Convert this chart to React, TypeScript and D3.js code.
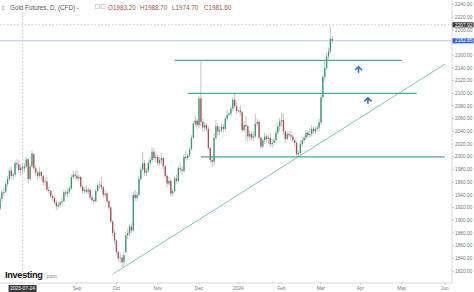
import React from "react";
import * as d3 from "d3";

// ---- data ----
const opens = [1918,1934,1944,1945,1957,1965,1978,1970,1972,1990,1988,1979,1983.2,1981.6,1985,1996,1965,1985,2004,1982,1975,1970,1976,1970,1960,1961,1948,1946,1938,1935,1928,1922,1924,1928,1930,1944,1942,1945,1950,1968,1972,1970,1966,1968,1953,1946,1948,1945,1948,1936,1932,1930,1946,1955,1956,1952,1940,1942,1930,1920,1898,1880,1868,1850,1840,1841,1834,1850,1876,1880,1890,1884,1940,1935,1940,1965,1980,1990,1975,1978,1990,1995,2008,1998,2000,1990,1995,1998,1985,1970,1958,1962,1942,1946,1966,1962,1982,1980,1978,2000,1998,2002,2012,2030,2052,2057,2050,2092,2055,2046,2050,2044,2014,1995,1992,2030,2048,2040,2042,2047,2044,2060,2066,2068,2076,2090,2080,2072,2073,2070,2042,2050,2048,2032,2036,2030,2032,2052,2055,2030,2016,2026,2032,2028,2030,2020,2022,2026,2038,2048,2056,2058,2040,2028,2036,2034,2032,2026,2022,2004,2006,2020,2026,2030,2038,2034,2036,2044,2040,2044,2046,2054,2094,2126,2140,2158,2166,2186];
const highs = [1938,1948,1950,1960,1970,1982,1984,1976,1994,1996,1995,1988,1988.7,1990,2000,1999,1988,2010,2006,1986,1978,1984,1978,1972,1966,1968,1952,1948,1942,1938,1932,1928,1931,1935,1948,1948,1951,1954,1972,1978,1978,1980,1972,1970,1955,1952,1955,1952,1950,1940,1936,1950,1958,1962,1968,1954,1948,1945,1932,1922,1900,1885,1870,1852,1848,1845,1850,1882,1886,1894,1895,1945,1948,1945,1970,1985,2008,1995,1982,1994,2000,2015,2013,2006,2004,2000,2006,2000,1988,1972,1968,1965,1950,1970,1972,1986,1990,1985,2004,2010,2005,2016,2034,2056,2065,2060,2096,2152,2060,2056,2054,2048,2016,2000,2036,2058,2052,2048,2052,2052,2064,2074,2071,2080,2094,2100,2086,2075,2082,2072,2056,2064,2050,2042,2040,2040,2068,2060,2058,2032,2030,2038,2036,2034,2038,2028,2030,2042,2054,2062,2070,2068,2042,2040,2040,2040,2036,2030,2025,2010,2026,2032,2034,2042,2042,2044,2050,2048,2048,2050,2060,2098,2130,2152,2164,2172,2205,2190];
const lows = [1915,1930,1938,1942,1953,1962,1966,1963,1968,1982,1975,1970,1974.7,1976,1982,1958,1962,1983,1978,1970,1964,1966,1964,1955,1954,1945,1942,1935,1930,1925,1916,1918,1920,1924,1928,1937,1936,1942,1948,1965,1965,1962,1963,1950,1942,1943,1942,1941,1932,1928,1925,1928,1944,1950,1948,1935,1936,1926,1916,1895,1875,1862,1846,1835,1832,1826,1826,1848,1870,1875,1880,1882,1930,1930,1938,1960,1978,1970,1970,1975,1985,1992,1994,1992,1985,1986,1988,1980,1966,1952,1954,1938,1938,1944,1958,1958,1975,1972,1975,1994,1995,2000,2010,2028,2048,2044,2045,2048,2040,2040,2040,2010,1990,1984,1986,2026,2034,2034,2038,2038,2040,2056,2063,2064,2072,2076,2068,2070,2064,2038,2040,2026,2024,2026,2026,2024,2030,2048,2026,2012,2014,2020,2022,2020,2016,2014,2018,2022,2034,2040,2048,2034,2022,2026,2030,2026,2022,2016,2000,2000,2002,2016,2022,2026,2030,2030,2032,2036,2036,2040,2040,2050,2090,2120,2136,2154,2162,2178];
const closes = [1934,1944,1943,1957,1965,1978,1970,1972,1990,1988,1979,1983,1981.6,1985,1996,1965,1985,2005,1982,1975,1970,1976,1970,1960,1961,1948,1946,1938,1935,1928,1922,1924,1928,1930,1944,1942,1945,1950,1968,1972,1970,1966,1968,1953,1946,1948,1945,1948,1936,1932,1930,1946,1955,1956,1952,1940,1942,1930,1920,1898,1880,1868,1850,1840,1841,1834,1845,1876,1880,1890,1884,1940,1935,1940,1965,1980,1990,1975,1978,1990,1995,2008,1998,2000,1990,1995,1998,1985,1970,1958,1962,1942,1946,1966,1962,1982,1980,1978,2000,1998,2002,2012,2030,2052,2057,2050,2092,2055,2046,2050,2044,2014,1995,1992,2030,2048,2040,2042,2047,2044,2060,2066,2068,2076,2090,2080,2072,2073,2070,2042,2050,2048,2032,2036,2030,2032,2052,2055,2030,2016,2026,2032,2028,2030,2020,2022,2026,2038,2048,2056,2058,2040,2028,2036,2034,2032,2026,2022,2004,2006,2020,2026,2030,2038,2034,2036,2044,2040,2044,2046,2054,2094,2126,2140,2158,2166,2186,2182.85];

const yTicks = d3.range(1820, 2241, 20);
const levelPrices = [2152, 2100, 2000];
const levelStarts = ["2023-11-14", "2023-11-23", "2023-12-04"];
const levelEnds = ["2024-05-01", "2024-05-13", "2024-06-03"];
const trendDates = ["2023-09-28", "2024-06-03"];
const trendPrices = [1815, 2146];
const arrowDates = ["2024-03-29", "2024-04-05"];
const arrowPrices = [2138, 2089];
const lastPrice = 2182.85;
const crossDate = "2023-07-24";
const crossPrice = 2207.92;
const titleText = "Gold Futures, D, (CFD) -";
const ohlcText = ["O1983.20", "H1988.70", "L1974.70", "C1981.60"];

// trading days (weekdays) from the first bar, extended into the future
const allDays = d3.timeDay
  .range(new Date(2023, 6, 6), new Date(2024, 5, 30))
  .filter((d) => d.getDay() !== 0 && d.getDay() !== 6);
const parse = d3.timeParse("%Y-%m-%d");
const idxOf = (s: string) => allDays.findIndex((d) => d >= (parse(s) as Date));

const W = 474, H = 292;
const PLOT_R = 452, AXIS_Y = 283;

export default function App() {
  const x = d3.scaleLinear().domain([41, 171]).range([77, 321]);
  const y = d3.scaleLinear().domain([1820, 2240]).range([271, 4.5]);
  const fmt = d3.format(".2f");
  const up = "#2f9c6a", down = "#b24a55", wick = "#9a9a9a";
  const levelColor = "#3dae93";

  const months = d3.timeMonth.range(new Date(2023, 8, 1), new Date(2024, 6, 1)).map((m) => ({
    i: allDays.findIndex((d) => d >= m),
    label: m.getMonth() === 0 ? "2024" : d3.timeFormat("%b")(m),
  }));

  const font = "'Liberation Sans', Arial, sans-serif";
  const bw = 1.3;
  const crossI = idxOf(crossDate);
  // tick labels hidden behind the price tags
  const visibleTicks = yTicks.filter((t) => Math.abs(y(t) - y(lastPrice)) > 4);

  const trendLine = d3.line<[number, number]>()
    .x((d) => x(d[0]))
    .y((d) => y(d[1]));

  return (
    <svg width={W} height={H} style={{ position: "absolute", left: 0, top: 0, background: "#fff" }} fontFamily={font}>
      <rect width={W} height={H} fill="#fff" />
      {/* crosshair */}
      <line x1={0} x2={PLOT_R} y1={y(crossPrice)} y2={y(crossPrice)} stroke="#b5b5b5" strokeWidth={0.8} strokeDasharray="1.5,2" />
      <line x1={x(crossI)} x2={x(crossI)} y1={12} y2={AXIS_Y} stroke="#b5b5b5" strokeWidth={0.8} strokeDasharray="1.5,2" />
      {/* last price line */}
      <line x1={0} x2={PLOT_R} y1={y(lastPrice)} y2={y(lastPrice)} stroke="#bccbe6" strokeWidth={1.1} />

      {/* trendline */}
      <path d={trendLine(trendDates.map((d, k) => [idxOf(d), trendPrices[k]]) as [number, number][]) || ""} stroke="#5cb89f" strokeWidth={0.8} fill="none" />

      {/* candles */}
      {closes.map((c, i) => {
        const o = opens[i];
        const col = c >= o ? up : down;
        const top = y(Math.max(o, c));
        const h = Math.max(0.7, Math.abs(y(o) - y(c)));
        return (
          <g key={i}>
            <line x1={x(i)} x2={x(i)} y1={y(highs[i])} y2={y(lows[i])} stroke={wick} strokeWidth={0.6} />
            <rect x={x(i) - bw / 2} y={top} width={bw} height={h} fill={col} />
          </g>
        );
      })}

      {/* horizontal levels */}
      {levelPrices.map((p, k) => (
        <line key={k} x1={x(idxOf(levelStarts[k]))} x2={x(idxOf(levelEnds[k]))} y1={y(p)} y2={y(p)} stroke={levelColor} strokeWidth={1.3} />
      ))}

      {/* arrows */}
      {arrowDates.map((d, k) => {
        const cx = x(idxOf(d)), cy = y(arrowPrices[k]);
        return (
          <g key={k} transform={`translate(${cx},${cy})`} fill="none" stroke="#2f6fd0" strokeWidth={1.6} strokeLinecap="round" strokeLinejoin="round">
            <path d="M-3,0.5 L0,-2.5 L3,0.5" />
            <path d="M0,-2 L0,3" />
          </g>
        );
      })}

      {/* title */}
      <g fontSize={6.3}>
        <text x={1.5} y={9.5} fill="#999">≡</text>
        <text x={10} y={9.5} fill="#555">{titleText}</text>
        <rect x={95.5} y={4.5} width={4} height={4} fill="none" stroke="#bbb" strokeWidth={0.6} />
        <rect x={101} y={4.5} width={4} height={4} fill="none" stroke="#bbb" strokeWidth={0.6} />
        {ohlcText.map((t, k) => (
          <text key={k} x={108 + k * 32} y={9.5} fill="#a2524e">{t}</text>
        ))}
      </g>

      {/* y axis */}
      <line x1={PLOT_R} x2={PLOT_R} y1={0} y2={AXIS_Y} stroke="#cfcfcf" strokeWidth={0.8} />
      {visibleTicks.map((t) => (
        <g key={t}>
          <line x1={PLOT_R} x2={PLOT_R + 2} y1={y(t)} y2={y(t)} stroke="#aaa" strokeWidth={0.6} />
          <text x={455} y={y(t) + 1.7} fontSize={4.8} fill="#777">{fmt(t)}</text>
        </g>
      ))}
      {/* price labels */}
      <rect x={PLOT_R + 0.5} y={y(crossPrice) - 2.6} width={21} height={5.2} fill="#3a3a3a" />
      <text x={455} y={y(crossPrice) + 1.7} fontSize={4.8} fill="#fff">{fmt(crossPrice)}</text>
      <rect x={PLOT_R + 0.5} y={y(lastPrice) - 2.6} width={21} height={5.2} fill="#3166e0" />
      <text x={455} y={y(lastPrice) + 1.7} fontSize={4.8} fill="#fff">{fmt(lastPrice)}</text>

      {/* x axis */}
      <line x1={0} x2={PLOT_R} y1={AXIS_Y} y2={AXIS_Y} stroke="#cfcfcf" strokeWidth={0.8} />
      {months.map((m) => (
        <g key={m.label}>
          <line x1={x(m.i)} x2={x(m.i)} y1={AXIS_Y} y2={AXIS_Y + 1.5} stroke="#aaa" strokeWidth={0.6} />
          <text x={x(m.i)} y={289.5} fontSize={4.8} fill="#777" textAnchor="middle">{m.label}</text>
        </g>
      ))}
      <rect x={x(crossI) - 14} y={285} width={28} height={7} fill="#3a3a3a" />
      <text x={x(crossI)} y={290.3} fontSize={4.8} fill="#fff" textAnchor="middle">{crossDate}</text>

      {/* logo */}
      <text x={5} y={278} fontSize={9.2} fontWeight="bold" fill="#111" letterSpacing={-0.3}>Investing</text>
      <text x={45} y={278} fontSize={5.4} fill="#777">.com</text>
    </svg>
  );
}
